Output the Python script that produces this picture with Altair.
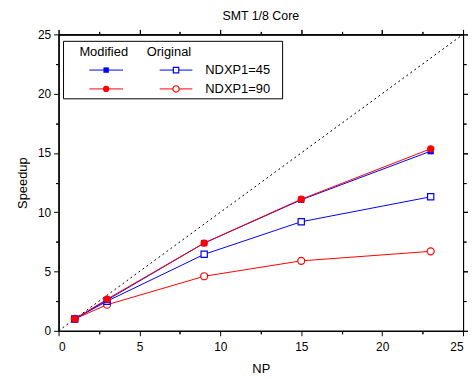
import altair as alt
import pandas as pd

np_vals = [1, 3, 9, 15, 23]
mod45 = [1.0, 2.6, 7.4, 11.05, 15.15]
mod90 = [1.0, 2.67, 7.4, 11.1, 15.35]
orig45 = [1.0, 2.5, 6.45, 9.2, 11.3]
orig90 = [1.0, 2.2, 4.6, 5.9, 6.7]
ideal_x = [0, 25]
ideal_y = [0, 25]

major = [0, 5, 10, 15, 20, 25]
minor = [2.5, 7.5, 12.5, 17.5, 22.5]

BLUE = "#0000ff"
RED = "#ff0000"
FONT = "Liberation Sans"

xs = alt.Scale(domain=[0, 25], nice=False)
ys = alt.Scale(domain=[0, 25], nice=False)

def ax(orient, values, size, labels, title="", lpad=3, tpad=8):
    return alt.Axis(orient=orient, values=values, tickSize=size, labels=labels,
                    title=title, grid=False, domain=True, domainColor="black",
                    tickColor="black", labelColor="black", labelFont=FONT,
                    labelFontSize=12, labelPadding=lpad, titleFont=FONT,
                    titleFontSize=13, titleFontWeight="normal", titleColor="black",
                    titlePadding=tpad)

diag = pd.DataFrame({"x": ideal_x, "y": ideal_y})
ideal = alt.Chart(diag).mark_line(color="black", strokeWidth=1, strokeDash=[2, 3]).encode(
    x=alt.X("x:Q", scale=xs, axis=ax("bottom", major, 5, True, "NP", lpad=6, tpad=10)),
    y=alt.Y("y:Q", scale=ys, axis=ax("left", major, 5, True, "Speedup")),
)

def series(vals, color, shape, filled, size, axx, axy):
    df = pd.DataFrame({"x": np_vals, "y": vals})
    base = alt.Chart(df).encode(
        x=alt.X("x:Q", scale=xs, axis=axx),
        y=alt.Y("y:Q", scale=ys, axis=axy),
    )
    line = base.mark_line(color=color, strokeWidth=1)
    pt = base.mark_point(shape=shape, filled=filled, color=color, size=size,
                         strokeWidth=1.2, opacity=1,
                         fill=color if filled else "white")
    return line, pt

l1, p1 = series(orig90, RED, "circle", False, 50,
                ax("bottom", minor, 3, False), ax("left", minor, 3, False))
l2, p2 = series(orig45, BLUE, "square", False, 40,
                ax("top", major, 5, False), ax("right", major, 5, False))
l3, p3 = series(mod45, BLUE, "square", True, 40,
                ax("top", minor, 3, False), ax("right", minor, 3, False))
l4, p4 = series(mod90, RED, "circle", True, 55, None, None)

one = pd.DataFrame({"a": [0]})
leg_box = alt.Chart(one).mark_rect(fill="white", stroke="black", strokeWidth=1).encode(
    x=alt.value(5), x2=alt.value(226), y=alt.value(7), y2=alt.value(65))

def txt(s, x, y):
    return alt.Chart(one).mark_text(text=s, align="left", baseline="middle",
                                    font=FONT, fontSize=13, color="black").encode(
        x=alt.value(x), y=alt.value(y))

def sample(x1, x2, y, color, shape, filled, size):
    r = alt.Chart(one).mark_rule(color=color, strokeWidth=1).encode(
        x=alt.value(x1), x2=alt.value(x2), y=alt.value(y))
    p = alt.Chart(one).mark_point(shape=shape, filled=filled, color=color, size=size,
                                  strokeWidth=1.2, opacity=1,
                                  fill=color if filled else "white").encode(
        x=alt.value((x1 + x2) / 2), y=alt.value(y))
    return [r, p]

legend_layers = [leg_box, txt("Modified", 21, 18), txt("Original", 89, 18),
                 txt("NDXP1=45", 148, 36), txt("NDXP1=90", 148, 55)]
legend_layers += sample(31, 65, 36, BLUE, "square", True, 30)
legend_layers += sample(31, 65, 55, RED, "circle", True, 40)
legend_layers += sample(102, 135, 36, BLUE, "square", False, 30)
legend_layers += sample(102, 135, 55, RED, "circle", False, 40)

chart = alt.layer(ideal, l1, l2, l3, l4, p1, p2, p3, p4, *legend_layers).resolve_axis(
    x="independent", y="independent"
).properties(
    width=408, height=299,
    autosize=alt.AutoSizeParams(type="none"),
    padding={"left": 51, "top": 25, "right": 5, "bottom": 48},
    title=alt.TitleParams("SMT 1/8 Core", font=FONT, fontSize=12.5, fontWeight="normal",
                          color="black", anchor="middle", offset=6),
).configure_view(stroke=None).configure(background="white")

chart.save("out.html", embed_options={"renderer": "svg", "actions": False})
